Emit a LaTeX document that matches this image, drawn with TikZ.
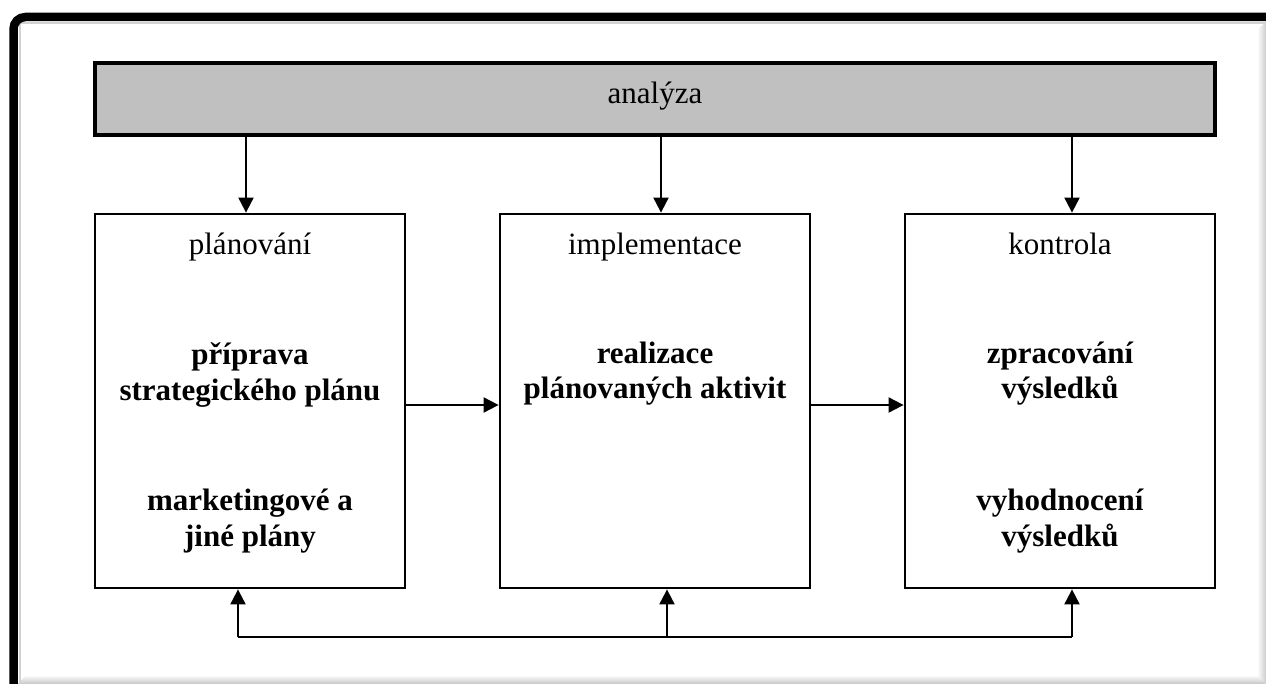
\documentclass[tikz,border=0pt]{standalone}
\usepackage{fontspec}
\setmainfont{Liberation Serif}
\usetikzlibrary{arrows.meta}

\tikzset{
  frameline/.style={line width=8.5pt, line cap=butt, rounded corners=12pt},
  stagebox/.style={draw, line width=2.8pt, minimum width=310pt, minimum height=374pt, inner sep=0pt},
  topbar/.style={draw, line width=4pt, fill={rgb,255:red,192;green,192;blue,192}, minimum width=1120pt, minimum height=72pt, inner sep=0pt,
                 font=\fontsize{31}{35}\selectfont},
  title/.style={anchor=base, inner sep=0pt, font=\fontsize{31}{35}\selectfont},
  bodytext/.style={anchor=base, inner sep=0pt, font=\fontsize{31}{35}\selectfont\bfseries},
  arr/.style={line width=2pt, -{Triangle[length=15pt,width=15pt]}},
  link/.style={line width=2pt}
}

\begin{document}
\begin{tikzpicture}[x=1pt, y=-1pt]
  % canvas and its raised frame
  \useasboundingbox (0,0) rectangle (1266,684);
  \fill[white] (0,0) rectangle (1266,684);
  \shade[top color=white, bottom color=gray!45]
    (18,684) -- (26,675) -- (1257,675) -- (1266,684) -- cycle;
  \shade[left color=white, right color=gray!40]
    (1257,675) -- (1257,30) -- (1266,22) -- (1266,684) -- cycle;
  \draw[gray!35, line width=2pt] (19.5,684) -- (19.5,23) -- (1266,23);
  \draw[frameline] (13.5,684) -- (13.5,17) -- (1266,17);

  % analysis bar
  \node[topbar] (bar) at (655,99) {};
  \node[title] (ana) at (655,104) {analýza};

  % the three stages
  \node[stagebox] (b1) at (250,401) {};
  \node[stagebox] (b2) at (655,401) {};
  \node[stagebox] (b3) at (1060,401) {};

  \node[title] (t1) at (250,255) {plánování};
  \node[title] (t2) at (655,255) {implementace};
  \node[title] (t3) at (1060,255) {kontrola};

  \node[bodytext] (p1a) at (250,365) {příprava};
  \node[bodytext] (p1b) at (250,400) {strategického plánu};
  \node[bodytext] (p2a) at (250,510) {marketingové a};
  \node[bodytext] (p2b) at (250,546) {jiné plány};

  \node[bodytext] (r1a) at (655,364) {realizace};
  \node[bodytext] (r1b) at (655,399) {plánovaných aktivit};

  \node[bodytext] (k1a) at (1060,364) {zpracování};
  \node[bodytext] (k1b) at (1060,399) {výsledků};
  \node[bodytext] (k2a) at (1060,510) {vyhodnocení};
  \node[bodytext] (k2b) at (1060,546) {výsledků};

  % arrows from the analysis bar
  \coordinate (d1) at (246,0);
  \coordinate (d2) at (661,0);
  \coordinate (d3) at (1072,0);
  \draw[arr] (bar.south -| d1) -- (b1.north -| d1);
  \draw[arr] (bar.south -| d2) -- (b2.north -| d2);
  \draw[arr] (bar.south -| d3) -- (b3.north -| d3);

  % flow between stages
  \coordinate (h) at (0,405);
  \draw[arr] (b1.east |- h) -- (b2.west |- h);
  \draw[arr] (b2.east |- h) -- (b3.west |- h);

  % feedback line
  \coordinate (fL) at (238,637);
  \coordinate (fM) at (667,637);
  \coordinate (fR) at (1072,637);
  \draw[link] (fL) -- (fR);
  \draw[arr] (fL) -- (b1.south -| fL);
  \draw[arr] (fM) -- (b2.south -| fM);
  \draw[arr] (fR) -- (b3.south -| fR);
\end{tikzpicture}
\end{document}
